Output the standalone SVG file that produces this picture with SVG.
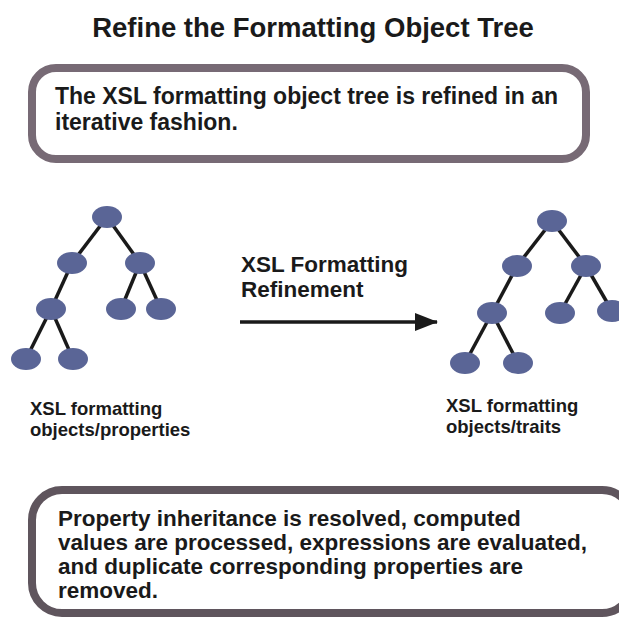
<svg xmlns="http://www.w3.org/2000/svg" width="619" height="622" viewBox="0 0 619 622">
<defs>
<style>
text{font-family:"Liberation Sans",Arial,sans-serif;font-weight:bold;fill:#1a1a1a}
.node ellipse{fill:#5a6596}
.edge{stroke:#1a1a1a;stroke-width:3.5;fill:none}
</style>
<marker id="ah" markerWidth="24" markerHeight="20" refX="22" refY="10" orient="auto" markerUnits="userSpaceOnUse" viewBox="0 0 24 20">
<path d="M0,1 L23,10 L0,19 Z" fill="#1a1a1a"/>
</marker>
</defs>
<rect width="619" height="622" fill="#ffffff"/>
<text id="title" x="313" y="37" font-size="27.5" text-anchor="middle">Refine the Formatting Object Tree</text>
<g id="box-top">
<rect x="32" y="68" width="554" height="91" rx="24" fill="#ffffff" stroke="#776a75" stroke-width="8"/>
<text x="55" y="104" font-size="23">The XSL formatting object tree is refined in an</text>
<text x="55" y="130" font-size="23">iterative fashion.</text>
</g>
<g id="connectors">
<line class="edge" x1="107" y1="217" x2="72" y2="263"/>
<line class="edge" x1="107" y1="217" x2="140" y2="263"/>
<line class="edge" x1="72" y1="263" x2="51" y2="309"/>
<line class="edge" x1="140" y1="263" x2="121" y2="309"/>
<line class="edge" x1="140" y1="263" x2="161" y2="309"/>
<line class="edge" x1="51" y1="309" x2="26" y2="359"/>
<line class="edge" x1="51" y1="309" x2="73" y2="359"/>
<line class="edge" x1="552" y1="221" x2="517" y2="266"/>
<line class="edge" x1="552" y1="221" x2="586" y2="266"/>
<line class="edge" x1="517" y1="266" x2="492" y2="313"/>
<line class="edge" x1="586" y1="266" x2="560" y2="313"/>
<line class="edge" x1="586" y1="266" x2="612" y2="311"/>
<line class="edge" x1="492" y1="313" x2="465" y2="363"/>
<line class="edge" x1="492" y1="313" x2="518" y2="363"/>
<line x1="240" y1="322" x2="437" y2="322" stroke="#1a1a1a" stroke-width="3.5" marker-end="url(#ah)"/>
</g>
<g id="tree-left" class="node">
<ellipse cx="107" cy="217" rx="15" ry="11"/>
<ellipse cx="72" cy="263" rx="15" ry="11"/>
<ellipse cx="140" cy="263" rx="15" ry="11"/>
<ellipse cx="51" cy="309" rx="15" ry="11"/>
<ellipse cx="121" cy="309" rx="15" ry="11"/>
<ellipse cx="161" cy="309" rx="15" ry="11"/>
<ellipse cx="26" cy="359" rx="15" ry="11"/>
<ellipse cx="73" cy="359" rx="15" ry="11"/>
</g>
<g id="tree-right" class="node">
<ellipse cx="552" cy="221" rx="15" ry="11"/>
<ellipse cx="517" cy="266" rx="15" ry="11"/>
<ellipse cx="586" cy="266" rx="15" ry="11"/>
<ellipse cx="492" cy="313" rx="15" ry="11"/>
<ellipse cx="560" cy="313" rx="15" ry="11"/>
<ellipse cx="612" cy="311" rx="15" ry="11"/>
<ellipse cx="465" cy="363" rx="15" ry="11"/>
<ellipse cx="518" cy="363" rx="15" ry="11"/>
</g>
<g id="arrow-label">
<text x="241" y="272" font-size="22.5">XSL Formatting</text>
<text x="241" y="297" font-size="22.5">Refinement</text>
</g>
<g id="label-left">
<text x="30" y="415" font-size="18.5">XSL formatting</text>
<text x="30" y="436" font-size="18.5">objects/properties</text>
</g>
<g id="label-right">
<text x="446" y="412" font-size="18.5">XSL formatting</text>
<text x="446" y="433" font-size="18.5">objects/traits</text>
</g>
<g id="box-bottom">
<rect x="32" y="490" width="600" height="123" rx="30" fill="#ffffff" stroke="#5f555d" stroke-width="8"/>
<text x="58" y="526" font-size="22.5">Property inheritance is resolved, computed</text>
<text x="58" y="550" font-size="22.5">values are processed, expressions are evaluated,</text>
<text x="58" y="574" font-size="22.5">and duplicate corresponding properties are</text>
<text x="58" y="598" font-size="22.5">removed.</text>
</g>
</svg>
